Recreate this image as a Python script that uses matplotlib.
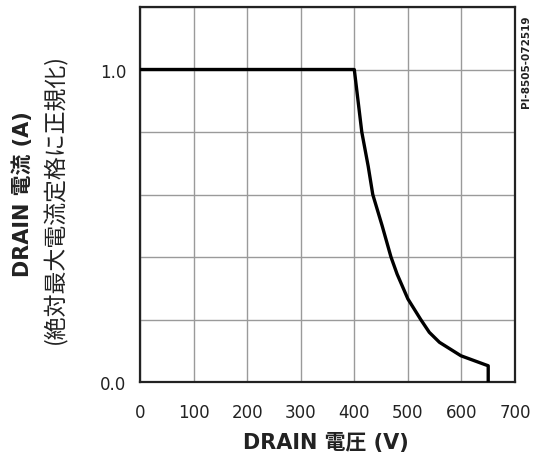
import matplotlib
matplotlib.use("Agg")
import matplotlib.pyplot as plt

plt.rcParams['font.family'] = ['DejaVu Sans', 'Noto Sans CJK JP']

voltage = [0, 400, 407, 414, 426, 434.5, 452, 468.5, 480, 500, 524, 540, 559, 599, 645, 650, 650]
current = [1.0, 1.0, 0.9, 0.8, 0.69, 0.6, 0.5, 0.4, 0.345, 0.266, 0.2, 0.159, 0.127, 0.084, 0.055, 0.052, 0.0]

x_ticks = [0, 100, 200, 300, 400, 500, 600, 700]
y_ticks = [0.0, 0.2, 0.4, 0.6, 0.8, 1.0, 1.2]
y_ticklabels = ['0.0', '', '', '', '', '1.0', '']

fig = plt.figure(figsize=(5.33, 4.56), dpi=100)
ax = fig.add_axes([140/533, 1-383/456, 375/533, 375/456])
ax.plot(voltage, current, color='black', lw=2.4, solid_joinstyle='round', zorder=3)
ax.set_xlim(0, 700)
ax.set_ylim(0, 1.2)
ax.set_xticks(x_ticks)
ax.set_yticks(y_ticks)
ax.set_yticklabels(y_ticklabels)
ax.grid(True, color='#9a9a9a', lw=1.0)
ax.tick_params(length=0, labelsize=12, colors='#222222')
ax.tick_params(axis='x', pad=15)
ax.tick_params(axis='y', pad=10)
for s in ax.spines.values():
    s.set_linewidth(1.6)
    s.set_color('#222222')

fig.text(326/533, 1-443/456, 'DRAIN 電圧 (V)', ha='center', va='center',
         fontsize=15, fontweight='bold', color='#222222')
fig.text(23/533, 1-194/456, 'DRAIN 電流 (A)', ha='center', va='center',
         rotation=90, fontsize=15, fontweight='bold', color='#222222')
fig.text(55/533, 1-199/456, '(絶対最大電流定格に正規化)', ha='center', va='center',
         rotation=90, fontsize=16.5, color='#222222',
         family=['Noto Sans CJK JP', 'DejaVu Sans'])
fig.text(526/533, 1-62/456, 'PI-8505-072519', ha='center', va='center',
         rotation=90, fontsize=7.5, fontweight='bold', color='#222222')

fig.savefig('out.png', dpi=100)
